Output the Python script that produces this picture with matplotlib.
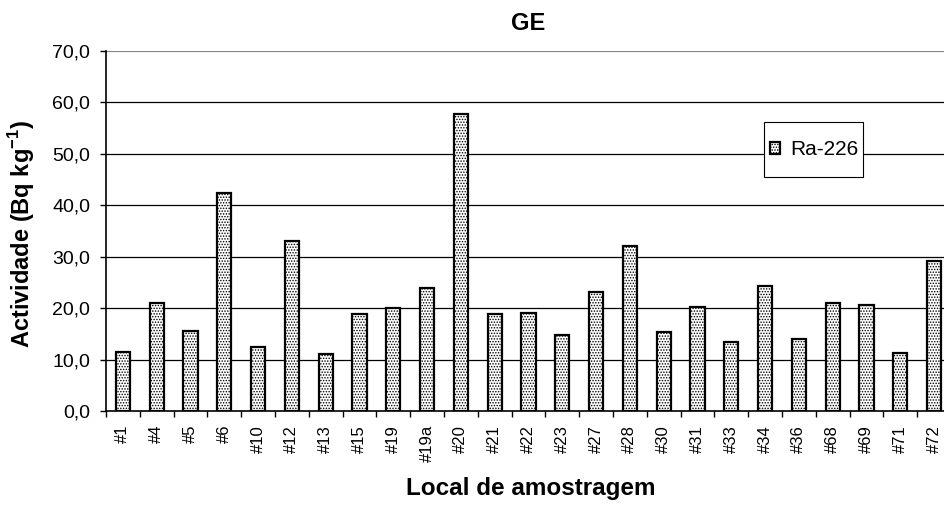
import matplotlib

matplotlib.use("Agg")
import matplotlib.pyplot as plt
import numpy as np
from matplotlib.patches import Rectangle

plt.rcParams["font.family"] = ["Liberation Sans", "DejaVu Sans"]
plt.rcParams["mathtext.fontset"] = "custom"
plt.rcParams["mathtext.bf"] = "Liberation Sans:bold"
plt.rcParams["hatch.linewidth"] = 0.7

sites = ["#1", "#4", "#5", "#6", "#10", "#12", "#13", "#15", "#19", "#19a",
         "#20", "#21", "#22", "#23", "#27", "#28", "#30", "#31", "#33", "#34",
         "#36", "#68", "#69", "#71", "#72"]
ra226 = [11.5, 21.0, 15.6, 42.4, 12.4, 33.0, 11.0, 18.9, 20.0, 23.9,
         57.7, 18.9, 19.1, 14.8, 23.1, 32.1, 15.4, 20.2, 13.4, 24.3,
         14.0, 21.0, 20.7, 11.3, 29.2]
yticks = np.arange(0, 71, 10)

W, H = 944, 505
fig = plt.figure(figsize=(W / 100, H / 100), dpi=100)
# plot area runs a little past the right edge of the image
ax = fig.add_axes([106 / W, 1 - 411 / H, 845 / W, 360 / H])

x = np.arange(len(sites))
ax.bar(x, ra226, width=0.42, color="white", edgecolor="black", linewidth=1.6,
       hatch="......", label="Ra-226", zorder=3)

ax.set_xlim(-0.5, len(sites) - 0.5)
ax.set_ylim(0, 70)
ax.set_yticks(yticks)
ax.set_yticklabels([f"{v:.1f}".replace(".", ",") for v in yticks], fontsize=14)
for v in yticks[1:-1]:
    ax.axhline(v, color="black", linewidth=0.9, zorder=0)
ax.axhline(70, color="#888888", linewidth=1.6, zorder=0)

# category ticks sit between bars, labels centred under them
ax.set_xticks(np.arange(len(sites) + 1) - 0.5)
ax.set_xticklabels([])
ax.set_xticks(x, minor=True)
ax.set_xticklabels(sites, minor=True, rotation=90, fontsize=12)
ax.tick_params(axis="x", which="minor", length=0, pad=10)
ax.tick_params(axis="x", which="major", length=4.5, width=1, direction="out")
ax.tick_params(axis="y", length=4.5, width=1, direction="out", pad=7)

for side in ["top", "right"]:
    ax.spines[side].set_visible(False)
ax.spines["left"].set_linewidth(1.2)
ax.spines["bottom"].set_linewidth(1.2)

ax.set_title("GE", fontsize=17, fontweight="bold", pad=15)
ax.set_ylabel("Actividade (Bq kg$^{\\mathbf{-1}}$)", fontsize=17, fontweight="bold")
ax.set_xlabel("Local de amostragem", fontsize=17.5, fontweight="bold")
ax.yaxis.set_label_coords(-69 / 845, (411 - 234) / 360)
ax.xaxis.set_label_coords(0.503, -66 / 360)

# legend box drawn by hand: it is much taller than the entry inside it
box = Rectangle((764 / W, 1 - 177 / H), 99 / W, 55 / H, transform=fig.transFigure,
                facecolor="white", edgecolor="black", linewidth=0.8, zorder=4)
ax.add_patch(box)
leg = ax.legend(loc="center left", fontsize=15, frameon=False,
                handlelength=0.5, handleheight=0.5, borderpad=0,
                handletextpad=0.45, borderaxespad=0)
leg.set_bbox_to_anchor((770 / W, 1 - 149.5 / H), transform=fig.transFigure)
leg.set_zorder(5)

fig.savefig("out.png", dpi=100, facecolor="white")
